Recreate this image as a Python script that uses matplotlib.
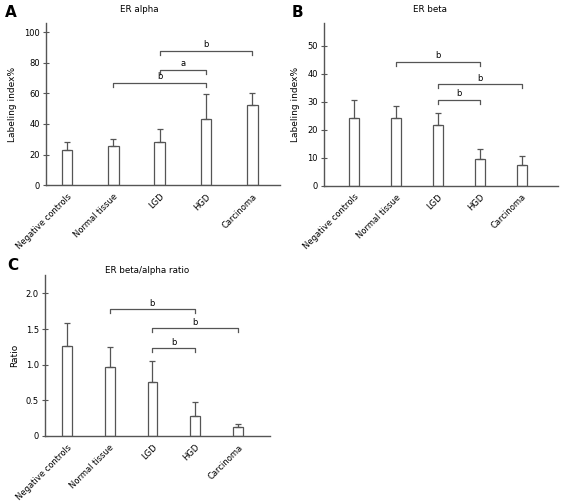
import matplotlib.pyplot as plt
import numpy as np

groups = ["Negative controls", "Normal tissue", "LGD", "HGD", "Carcinoma"]

alpha_mean = [23, 25.5, 28, 43, 52.5]
alpha_err = [5.5, 5, 8.5, 16.5, 8]

beta_mean = [24, 24, 21.5, 9.5, 7.5]
beta_err = [6.5, 4.5, 4.5, 3.5, 3]

ratio_mean = [1.26, 0.97, 0.76, 0.28, 0.12]
ratio_err = [0.32, 0.28, 0.29, 0.19, 0.05]

# brackets: (from group, to group, height, label)
alpha_sig = [(2, 4, 88, "b"), (2, 3, 75.5, "a"), (1, 3, 67, "b")]
beta_sig = [(1, 3, 44.3, "b"), (2, 4, 36.2, "b"), (2, 3, 30.6, "b")]
ratio_sig = [(1, 3, 1.775, "b"), (2, 4, 1.51, "b"), (2, 3, 1.23, "b")]

line_col = "#555555"
fs = 6.0

fig = plt.figure(figsize=(5.67, 5.03), dpi=100)


def panel(rect, means, errs, sig, ylim, yticks, yticklabels, xlim, ylabel, title, title_xy, letter, letter_xy):
    ax = fig.add_axes(rect)
    x = np.arange(len(groups))
    ax.bar(x, means, width=0.23, color="white", edgecolor=line_col, linewidth=0.9, zorder=2)
    ax.errorbar(x, means, yerr=[np.zeros(len(errs)), errs], fmt="none", ecolor=line_col,
                elinewidth=0.9, capsize=2, capthick=0.9, zorder=3)
    ax.set_xlim(*xlim)
    ax.set_ylim(*ylim)
    ax.set_yticks(yticks)
    ax.set_yticklabels(yticklabels, fontsize=fs)
    ax.set_xticks(x)
    ax.set_xticklabels(groups, rotation=45, ha="right", rotation_mode="anchor", fontsize=fs)
    ax.tick_params(axis="x", direction="in", length=3, color=line_col, width=0.7, pad=5)
    ax.tick_params(axis="y", direction="inout", length=5, color=line_col, width=0.8, pad=2)
    for s in ["top", "right"]:
        ax.spines[s].set_visible(False)
    for s in ["left", "bottom"]:
        ax.spines[s].set_color(line_col)
        ax.spines[s].set_linewidth(1.0)
    ax.set_ylabel(ylabel, fontsize=6.5, labelpad=5)
    dy = (ylim[1] - ylim[0]) * 0.025
    for a, b, h, lab in sig:
        ax.plot([x[a], x[a], x[b], x[b]], [h - dy, h, h, h - dy], color=line_col, lw=0.9)
        ax.text((x[a] + x[b]) / 2, h + dy * 0.35, lab, ha="center", va="bottom", fontsize=fs)
    fig.text(title_xy[0], title_xy[1], title, ha="center", va="center", fontsize=6.3)
    fig.text(letter_xy[0], letter_xy[1], letter, fontsize=11, fontweight="bold", ha="left", va="center")
    return ax


panel([0.0811, 0.632, 0.4127, 0.322], alpha_mean, alpha_err, alpha_sig, (0, 106),
      [0, 20, 40, 60, 80, 100], ["0", "20", "40", "60", "80", "100"], (-0.45, 4.6),
      "Labeling index%", "ER alpha", (0.245, 0.982), "A", (0.008, 0.975))

panel([0.5714, 0.631, 0.4127, 0.323], beta_mean, beta_err, beta_sig, (0, 58),
      [0, 10, 20, 30, 40, 50], ["0", "10", "20", "30", "40", "50"], (-0.72, 4.86),
      "Labeling index%", "ER beta", (0.758, 0.982), "B", (0.515, 0.975))

panel([0.0794, 0.1338, 0.397, 0.3195], ratio_mean, ratio_err, ratio_sig, (0, 2.26),
      [0, 0.5, 1.0, 1.5, 2.0], ["0", "0.5", "1.0", "1.5", "2.0"], (-0.51, 4.75),
      "Ratio", "ER beta/alpha ratio", (0.259, 0.462), "C", (0.012, 0.473))

plt.savefig("out.png", dpi=100)
